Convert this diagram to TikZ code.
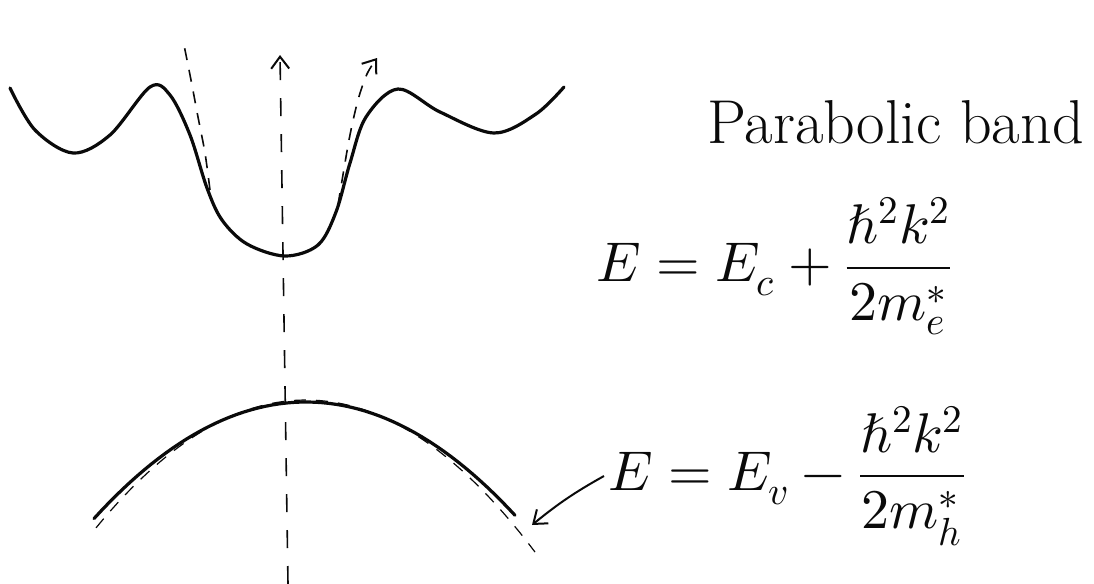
\documentclass[tikz,border=0pt]{standalone}
\usepackage{amsmath}
\usepackage{unicode-math}
\usepackage{tikz}
\usetikzlibrary{arrows.meta, positioning}
\definecolor{inkblack}{RGB}{10,10,10}
\tikzset{
  band/.style={draw=inkblack, line width=1.6pt, line cap=round},
  guide/.style={draw=inkblack, line width=0.8pt, dash pattern=on 6pt off 5pt},
  barb/.style={-{Straight Barb[length=6pt, width=9pt, line width=1pt]}},
  formula/.style={anchor=west, inner sep=2pt, text=inkblack, font=\fontsize{28}{32}\selectfont},
}

\begin{document}
\begin{tikzpicture}[x=0.5pt, y=-0.5pt]
  \useasboundingbox (0,0) rectangle (1094,584);
  % conduction band
  \draw[band] plot[smooth, tension=0.55] coordinates {(10,88) (35,130) (73,153) (110,135) (150,87) (170,95) (190,135) (207,188) (222,220) (247,244) (285,256) (318,245) (336,212) (350,163) (366,117) (398,89) (440,112) (494,133) (536,114) (564,87)};
  % parabola fit near the minimum
  \draw[guide] plot[smooth] coordinates {(210,190) (205,153) (198,117) (191,80) (183,40)};
  \draw[guide, barb] plot[smooth] coordinates {(338,205) (349,140) (358,100) (367,74) (377,58)};
  % k = 0 axis
  \coordinate (kbot) at (288,584);
  \coordinate (ktop) at (280,55);
  \draw[guide, dash pattern=on 9pt off 9pt, barb] (kbot) -- (ktop);
  % valence band
  \draw[band] plot[domain=94:515, samples=60] (\x, {402+0.0026*(\x-306)*(\x-306)});
  \draw[guide, line width=0.6pt] plot[domain=96:535, samples=60] (\x, {400+0.0029*(\x-306)*(\x-306)});
  % labels
  \node[formula] (title) at (703,122) {\fontsize{31}{36}\selectfont Parabolic band};
  \node[formula] (econd) at (592,266) {$E = E_c + \dfrac{\hbar^2 k^2}{2m_e^*}$};
  \node[formula] (eval) at (604,476) {$E = E_v - \dfrac{\hbar^2 k^2}{2m_h^*}$};
  \coordinate (vtip) at (532,525);
  \draw[draw=inkblack, line width=1pt, barb] (eval.west) to[bend right=5] (vtip);
\end{tikzpicture}
\end{document}
